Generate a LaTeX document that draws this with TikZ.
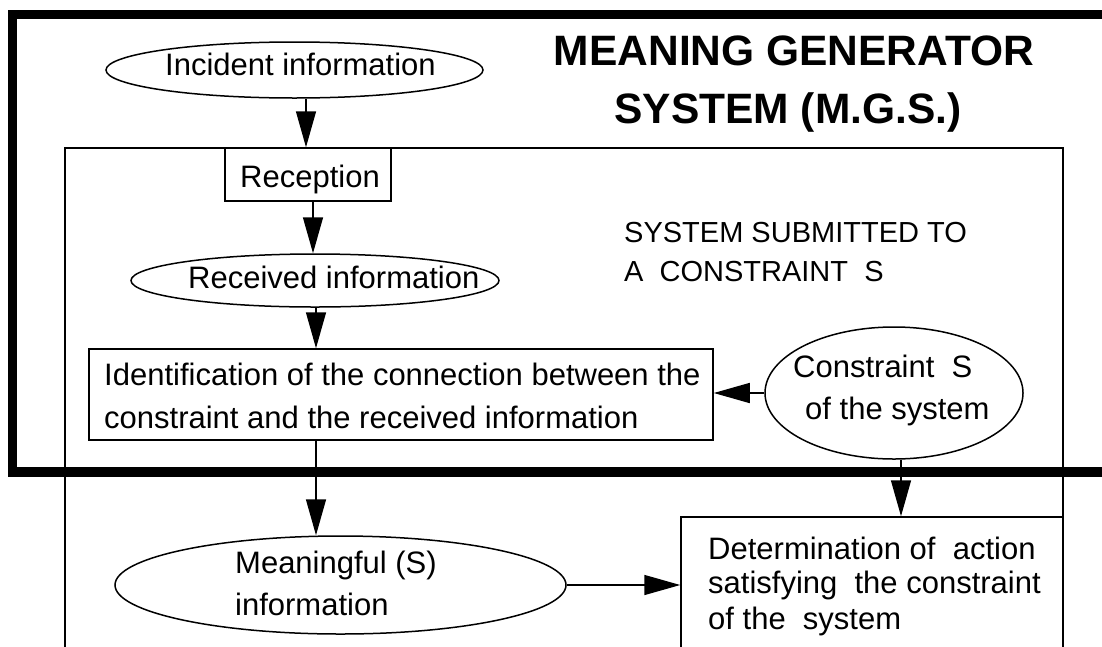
\documentclass[tikz,border=0pt]{standalone}
\usepackage{fontspec}
\setmainfont{Liberation Sans}
\usetikzlibrary{shapes.geometric,arrows.meta}
\begin{document}
\begin{tikzpicture}[x=1pt,y=-1pt,
  ln/.style={line width=1.5pt},
  ell/.style={draw, ellipse, line width=1.5pt, inner sep=0pt},
  boxn/.style={draw, rectangle, line width=1.5pt, inner sep=0pt},
  txt/.style={anchor=base west, inner sep=0pt, font=\fontsize{31}{37}\selectfont},
  sub/.style={anchor=base west, inner sep=0pt, font=\fontsize{29}{34}\selectfont},
  ttl/.style={anchor=base, inner sep=0pt, font=\fontsize{42.5}{50}\selectfont\bfseries},
  arr/.style={line width=1.5pt, -{Triangle[length=36pt,width=20pt]}}]
\useasboundingbox (0,0) rectangle (1102,646);
\fill[white] (0,0) rectangle (1102,646);
% thick frame
\draw[line width=9.5pt] (1110,14.5) -- (12.5,14.5) -- (12.5,472) -- (1110,472);
% inner system rectangle (open at bottom)
\draw[ln] (65,700) -- (65,148) -- (1063,148) -- (1063,700);
% title
\node[ttl] (ttla) at (794,65) {MEANING GENERATOR};
\node[ttl] (ttlb) at (788,123) {SYSTEM (M.G.S.)};
% constraint label
\node[sub] (suba) at (624,242) {SYSTEM SUBMITTED TO};
\node[sub] (subb) at (624,281) {A\ \ CONSTRAINT\ \ S};
% shapes
\node[ell, minimum width=377pt, minimum height=56pt] (inc) at (294.5,70) {};
\node[boxn, minimum width=166pt, minimum height=53pt] (recp) at (308,174.5) {};
\node[ell, minimum width=368pt, minimum height=53pt] (rec) at (315,280.5) {};
\node[boxn, minimum width=624pt, minimum height=91pt] (iden) at (401,394.5) {};
\node[ell, minimum width=258pt, minimum height=132pt] (cons) at (894,393) {};
\node[ell, minimum width=451pt, minimum height=98pt] (mean) at (340.5,585) {};
\node[boxn, minimum width=382pt, minimum height=183pt] (det) at (872,608.5) {};
% texts
\node[txt] (tinc) at (165,75) {Incident information};
\node[txt] (trecp) at (240,187) {Reception};
\node[txt] (trec) at (188,288) {Received information};
\node[txt] (tida) at (104,385) {Identification of the connection between the};
\node[txt] (tidb) at (104,428) {constraint and the received information};
\node[txt] (tcoa) at (793,377) {Constraint\ \ S};
\node[txt] (tcob) at (805,419) {of the system};
\node[txt] (tmea) at (235,573) {Meaningful (S)};
\node[txt] (tmeb) at (235,615) {information};
\node[txt] (tdea) at (708,559) {Determination of\ \ action};
\node[txt] (tdeb) at (708,593) {satisfying\ \ the constraint};
\node[txt] (tdec) at (708,629) {of the\ \ system};
% column coordinates
\coordinate (xa) at (306,0);
\coordinate (xb) at (313,0);
\coordinate (xc) at (316,0);
\coordinate (xd) at (901,0);
% connectors
\draw[arr] (inc.south -| xa) -- (recp.north -| xa);
\draw[arr] (recp.south -| xb) -- (rec.north -| xb);
\draw[arr] (rec.south -| xc) -- (iden.north -| xc);
\draw[arr] (iden.south -| xc) -- (mean.north -| xc);
\draw[arr] (cons.west) -- (cons.west -| iden.east);
\draw[arr] (cons.south -| xd) -- (det.north -| xd);
\draw[arr] (mean.east) -- (mean.east -| det.west);
\end{tikzpicture}
\end{document}
